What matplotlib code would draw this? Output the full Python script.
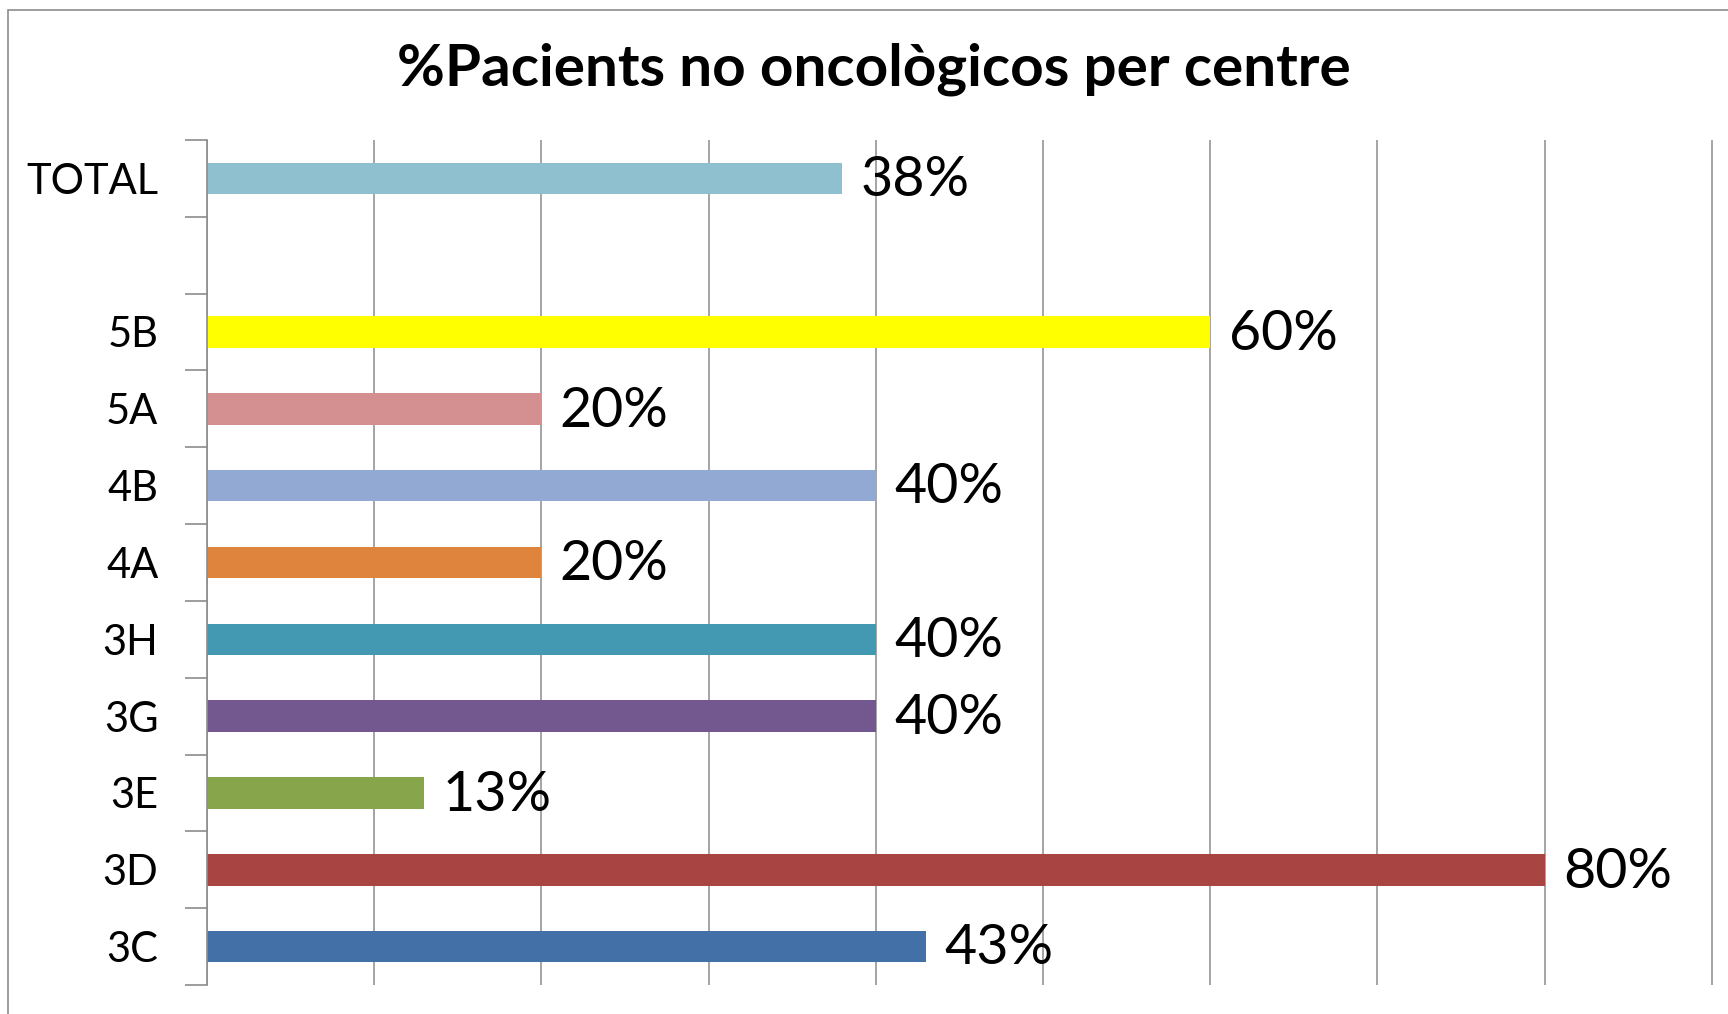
import matplotlib.pyplot as plt
from matplotlib.ticker import FixedLocator, NullFormatter

# Data (bottom to top); the empty slot sits between 5B and TOTAL
categories = ['3C', '3D', '3E', '3G', '3H', '4A', '4B', '5A', '5B', '', 'TOTAL']
values = [0.43, 0.80, 0.13, 0.40, 0.40, 0.20, 0.40, 0.20, 0.60, None, 0.38]
labels = ['43%', '80%', '13%', '40%', '40%', '20%', '40%', '20%', '60%', '', '38%']
colors = ['#4470A8', '#A84442', '#87A54B', '#72588F', '#4299B1', '#DE843C',
          '#92A9D3', '#D49090', '#FFFF00', 'white', '#8FC0D0']

plt.rcParams['font.family'] = ['Lato', 'DejaVu Sans']

fig = plt.figure(figsize=(17.28, 10.14), dpi=100)
# chart border (the right and bottom edges are cropped in the original)
fig.patches.append(plt.Rectangle((0.0046, -0.05), 1.1, 1.04, transform=fig.transFigure,
                                 fill=False, edgecolor='#8c8c8c', linewidth=1.2))

ax = fig.add_axes([0.1198, 0.0286, 0.9676, 0.8334])
ax.set_clip_on(False)

ypos = list(range(len(categories)))
for y, v, c, lab in zip(ypos, values, colors, labels):
    if v is None:
        continue
    ax.barh(y, v, height=0.41, color=c, zorder=2)
    ax.text(v + 0.011, y - 0.03, lab, va='center', ha='left', fontsize=40, color='black', zorder=3)

ax.set_xlim(0, 1.0)
ax.set_ylim(-0.5, len(categories) - 0.5)
ax.set_xticks([i / 10 for i in range(11)])
ax.xaxis.grid(True, color='#8c8c8c', linewidth=1.1, zorder=0)
ax.tick_params(axis='x', length=0, labelbottom=False)

# category labels centred, tick marks on the boundaries
ax.set_yticks(ypos)
ax.set_yticklabels(categories, fontsize=30)
ax.tick_params(axis='y', which='major', length=0, pad=35)
ax.yaxis.set_minor_locator(FixedLocator([i - 0.5 for i in range(len(categories) + 1)]))
ax.yaxis.set_minor_formatter(NullFormatter())
ax.tick_params(axis='y', which='minor', length=16, width=1.2, color='#8c8c8c', direction='out')

for s in ['top', 'right', 'bottom']:
    ax.spines[s].set_visible(False)
ax.spines['left'].set_color('#8c8c8c')
ax.spines['left'].set_linewidth(1.2)

fig.text(0.506, 0.932, '%Pacients no oncològicos per centre', ha='center', va='center',
         fontsize=42, fontweight='bold')

fig.savefig('out.png', dpi=100)
